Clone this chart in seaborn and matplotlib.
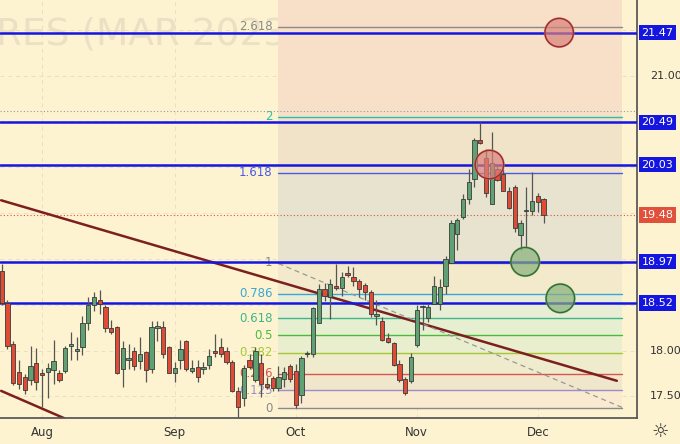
import numpy as np
import pandas as pd
import seaborn as sns
import matplotlib.pyplot as plt
import matplotlib.transforms as mtransforms

# OHLC (one row per session)
opens = [18.87, 18.52, 18.07, 17.77, 17.71, 17.68, 17.86, 17.76, 17.77, 17.79,
         17.75, 17.78, 18.05, 18.00, 18.04, 18.30, 18.50, 18.55, 18.48, 18.25,
         18.26, 17.80, 17.90, 17.99, 17.89, 17.98, 17.80, 18.25, 18.26, 18.04,
         17.76, 17.90, 18.10, 17.78, 17.82, 17.80, 17.84, 18.00, 18.04, 18.00,
         17.87, 17.56, 17.48, 17.90, 17.68, 17.86, 17.63, 17.70, 17.59, 17.69,
         17.83, 17.78, 17.52, 17.96, 17.96, 18.30, 18.67, 18.58, 18.71, 18.68,
         18.84, 18.80, 18.76, 18.72, 18.64, 18.38, 18.32, 18.14, 18.08, 17.85,
         17.69, 17.67, 18.06, 18.47, 18.36, 18.51, 18.51, 18.71, 18.96, 19.27,
         19.46, 19.65, 19.87, 20.30, 20.10, 19.60, 19.98, 19.93, 19.74, 19.79,
         19.26, 19.52, 19.52, 19.69, 19.65]
highs = [18.95, 18.55, 18.10, 17.90, 17.74, 18.05, 18.03, 17.80, 17.86, 18.11,
         17.79, 18.05, 18.20, 18.15, 18.38, 18.58, 18.64, 18.66, 18.50, 18.33,
         18.27, 18.10, 18.07, 18.04, 18.15, 18.00, 18.32, 18.32, 18.32, 18.05,
         17.88, 18.12, 18.12, 17.90, 17.90, 17.87, 18.02, 18.18, 18.14, 18.04,
         17.90, 17.60, 17.84, 17.96, 18.04, 17.96, 17.71, 17.72, 17.83, 17.82,
         17.85, 17.85, 17.94, 18.00, 18.47, 18.73, 18.74, 18.78, 18.95, 18.86,
         18.92, 18.91, 18.78, 18.74, 18.66, 18.55, 18.37, 18.19, 18.09, 17.90,
         17.71, 17.97, 18.50, 18.50, 18.51, 18.81, 18.78, 19.03, 19.43, 19.45,
         19.71, 19.98, 20.32, 20.49, 20.20, 20.38, 20.03, 19.98, 19.79, 19.81,
         19.43, 19.79, 19.95, 19.72, 19.67]
lows = [18.50, 18.02, 17.62, 17.58, 17.53, 17.62, 17.57, 17.38, 17.48, 17.63,
        17.66, 17.75, 17.90, 17.90, 17.95, 18.22, 18.43, 18.40, 18.20, 18.18,
        17.74, 17.60, 17.80, 17.79, 17.80, 17.66, 17.76, 18.10, 17.92, 17.75,
        17.66, 17.80, 17.78, 17.75, 17.66, 17.74, 17.80, 17.93, 17.93, 17.85,
        17.55, 17.27, 17.40, 17.80, 17.66, 17.49, 17.58, 17.56, 17.56, 17.60,
        17.66, 17.37, 17.43, 17.93, 17.93, 18.30, 18.54, 18.34, 18.66, 18.60,
        18.80, 18.70, 18.58, 18.55, 18.37, 18.28, 18.10, 18.08, 17.83, 17.66,
        17.52, 17.65, 18.04, 18.22, 18.31, 18.51, 18.44, 18.62, 18.96, 19.10,
        19.44, 19.60, 19.78, 20.25, 19.68, 19.60, 19.85, 19.74, 19.54, 19.29,
        19.10, 19.13, 19.48, 19.51, 19.39]
closes = [18.52, 18.05, 17.65, 17.64, 17.57, 17.83, 17.66, 17.73, 17.81, 17.89,
          17.68, 18.03, 18.07, 18.02, 18.30, 18.50, 18.58, 18.51, 18.25, 18.20,
          17.75, 18.03, 17.92, 17.83, 17.96, 17.79, 18.26, 18.27, 17.96, 17.76,
          17.81, 18.02, 17.80, 17.81, 17.71, 17.82, 17.94, 17.97, 17.96, 17.87,
          17.56, 17.38, 17.81, 17.82, 18.00, 17.63, 17.60, 17.59, 17.71, 17.77,
          17.69, 17.41, 17.92, 17.97, 18.46, 18.67, 18.60, 18.73, 18.68, 18.80,
          18.83, 18.76, 18.67, 18.64, 18.40, 18.39, 18.12, 18.09, 17.84, 17.68,
          17.54, 17.93, 18.44, 18.48, 18.48, 18.71, 18.69, 19.00, 19.39, 19.42,
          19.65, 19.84, 20.30, 20.27, 19.72, 20.05, 19.86, 19.74, 19.56, 19.34,
          19.39, 19.53, 19.63, 19.62, 19.48]

month_labels = ['Aug', 'Sep', 'Oct', 'Nov', 'Dec']
month_pos = [7, 30, 51, 72, 93]

key_levels = [21.47, 20.49, 20.03, 18.97, 18.52]
last_price = 19.48
axis_ticks = [21.00, 18.00, 17.50]

fib_ratios = [0, 0.125, 0.236, 0.382, 0.5, 0.618, 0.786, 1, 1.618, 2, 2.618]
fib_names = ['0', '0.125', '0.236', '0.382', '0.5', '0.618', '0.786', '1', '1.618', '2', '2.618']
fib_colors = ['#8a8a8a', '#9c8ec8', '#d9534f', '#a5c832', '#4cbb3c', '#3fb58a',
              '#3ba6d6', '#8a8a8a', '#4a5ae8', '#2bbfa8', '#8a8a8a']
band_colors = ['#faebd0', '#f0e6cc', '#eeeccc', '#e9eecf', '#e6efd0', '#e8eed6',
               '#f2eacb', '#e7e3cf', '#f0e3c8', '#f8e0c8']
fib_low, fib_high = 17.37, 18.96
fib_x0, fib_x1 = 48, 107.6

circ_x = [96.7, 84.6, 90.8, 96.9]
circ_y = [21.47, 20.03, 18.97, 18.57]
circ_kind = ['red', 'red', 'green', 'green']

trend_x = [-0.1, 106.7]
trend_y = [19.64, 17.67]
trend2_x = [-0.1, 10.9]
trend2_y = [17.56, 17.26]
dash_x = [48, 107.6]
dash_y = [18.95, 17.38]

sns.set_theme(style='white')
plt.rcParams['font.family'] = ['DejaVu Sans']

bg = '#fdf3d0'
fig = plt.figure(figsize=(6.8, 4.44), dpi=100, facecolor=bg)
ax = fig.add_axes([0, 1 - 418 / 444, 637 / 680, 418 / 444], facecolor=bg)
ax.set_xlim(-0.3, 110.2)
ax.set_ylim(17.264, 21.826)

for y in [17.5, 18.0, 18.5, 19.0, 19.5, 20.0, 20.5, 21.0, 21.5]:
    ax.axhline(y, color='#e9dfc4', lw=0.7, ls=(0, (4, 4)), zorder=0)
for m in month_pos:
    ax.axvline(m, color='#e9dfc4', lw=0.7, ls=(0, (4, 4)), zorder=0)

ax.text(-1, 21.45, 'RES (MAR 2023)', fontsize=27, color='#ebe0c4', va='center', zorder=0.5)

# fib retracement bands
lv = [fib_low + r * (fib_high - fib_low) for r in fib_ratios]
tops = lv[1:-1] + [21.826]
for i, c in enumerate(band_colors):
    ax.fill_between([fib_x0, fib_x1], lv[i], tops[i], color=c, lw=0, zorder=0.6)
for v, name, c in zip(lv, fib_names, fib_colors):
    ax.plot([fib_x0, fib_x1], [v, v], color=c, lw=1, zorder=1)
    ax.text(fib_x0 - 1, v, name, color=c, fontsize=8.5, ha='right', va='center', zorder=1)

ax.axhline(last_price, color='#e0503a', lw=0.8, ls=(0, (1, 2)), zorder=1)
ax.axhline(20.62, color='#999999', lw=0.8, ls=(0, (1, 2)), zorder=1)

ax.plot(trend_x, trend_y, color='#7b1f1f', lw=1.8, zorder=2)
ax.plot(trend2_x, trend2_y, color='#7b1f1f', lw=1.8, zorder=2)
ax.plot(dash_x, dash_y, color='#999999', lw=0.9, ls=(0, (4, 3)), zorder=2)

for y in key_levels:
    ax.axhline(y, color='#1515e0', lw=1.8, zorder=3)

# candles
df = pd.DataFrame({'o': opens, 'h': highs, 'l': lows, 'c': closes})
df['x'] = np.arange(len(df))
up = df['c'] >= df['o']
ax.vlines(df['x'], df['l'], df['h'], color='#555555', lw=0.9, zorder=4)
body_col = np.where(up, '#5fa172', '#e04b35')
ax.bar(df['x'], (df['c'] - df['o']).abs().clip(lower=0.015), bottom=df[['o', 'c']].min(axis=1),
       width=0.75, color=body_col, edgecolor='#3a3a3a', linewidth=0.6, zorder=5)

circ = pd.DataFrame({'x': circ_x, 'y': circ_y, 'kind': circ_kind})
sns.scatterplot(data=circ, x='x', y='y', hue='kind', palette={'red': '#d9817a', 'green': '#88b07a'},
                s=420, alpha=0.7, edgecolor=None, legend=False, ax=ax, zorder=6)
sns.scatterplot(data=circ, x='x', y='y', s=420, legend=False, ax=ax, zorder=6)
ax.collections[-1].set_facecolor('none')
ax.collections[-1].set_edgecolor(['#9b2a2a' if k == 'red' else '#2e6e2e' for k in circ_kind])
ax.collections[-1].set_linewidth(1)

ax.set_xticks(month_pos)
ax.set_xticklabels(month_labels, fontsize=8.5, color='#333333')
ax.set_yticks([])
ax.tick_params(axis='x', length=0, pad=6)
ax.set_xlabel('')
ax.set_ylabel('')
for s in ['top', 'left']:
    ax.spines[s].set_visible(False)
ax.spines['right'].set_color('#555555')
ax.spines['bottom'].set_color('#555555')

trans = mtransforms.blended_transform_factory(ax.transAxes, ax.transData)
for y in key_levels:
    ax.text(1.007, y, f'{y:.2f}', transform=trans, fontsize=8, color='white', va='center',
            bbox=dict(boxstyle='square,pad=0.25', fc='#1515e0', ec='none'), clip_on=False)
ax.text(1.007, last_price, f'{last_price:.2f}', transform=trans, fontsize=8, color='white', va='center',
        bbox=dict(boxstyle='square,pad=0.25', fc='#e0503a', ec='none'), clip_on=False)
for y in axis_ticks:
    ax.text(1.02, y, f'{y:.2f}', transform=trans, fontsize=8, color='#333333', va='center', clip_on=False)

fig.text(660 / 680, 1 - 431 / 444, '☼', fontsize=14, ha='center', va='center', color='#333333')

fig.savefig('out.png', dpi=100, facecolor=bg)
